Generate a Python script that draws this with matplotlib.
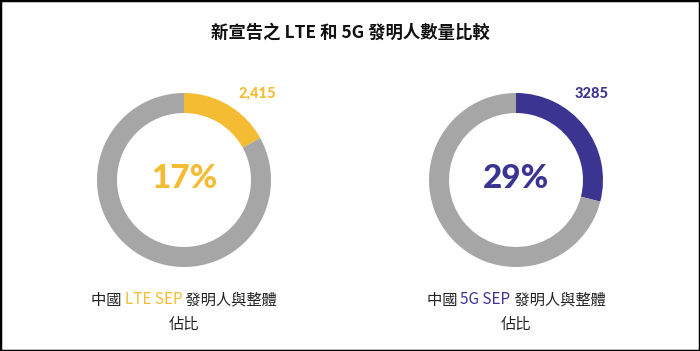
import matplotlib
matplotlib.use("Agg")
import matplotlib.pyplot as plt
from matplotlib.patches import Rectangle

plt.rcParams['font.family'] = ['Noto Sans CJK TC', 'DejaVu Sans']

W, H = 700, 351
title = "新宣告之 LTE 和 5G 發明人數量比較"
shares = [17, 29]                # percent share of China
value_labels = ["2,415", "3285"]
pct_labels = ["17%", "29%"]
highlight_colors = ["#F4BC33", "#3B3591"]
rest_color = "#A6A6A6"
caption_pre = ["中國 ", "中國 "]
caption_mid = ["LTE SEP", "5G SEP"]
caption_post = [" 發明人與整體", " 發明人與整體"]
caption_line2 = ["佔比", "佔比"]

fig = plt.figure(figsize=(W / 100, H / 100), dpi=100)
fig.patch.set_facecolor("white")

def fx(px):
    return px / W

def fy(py):
    return 1 - py / H

centers = [(184, 180), (516, 180)]
R = 87

for i, (cx, cy) in enumerate(centers):
    ax = fig.add_axes([fx(cx - R), fy(cy + R), 2 * R / W, 2 * R / H])
    s = shares[i]
    ax.pie([s, 100 - s], colors=[highlight_colors[i], rest_color],
           startangle=90, counterclock=False, radius=1,
           wedgeprops=dict(width=0.23, edgecolor='none'))
    ax.set_xlim(-1, 1)
    ax.set_ylim(-1, 1)
    ax.set_aspect('equal')
    ax.axis('off')
    ax.text(0, 0.02, pct_labels[i], ha='center', va='center',
            fontsize=24, fontweight='black', color=highlight_colors[i],
            family=['Lato', 'DejaVu Sans'])

value_pos = [(257, 94), (592, 94)]
for i, (x, y) in enumerate(value_pos):
    fig.text(fx(x), fy(y), value_labels[i], ha='center', va='center',
             fontsize=10.5, fontweight='black', color=highlight_colors[i],
             family=['Lato', 'DejaVu Sans'])

fig.text(fx(350), fy(33), title, ha='center', va='center',
         fontsize=12.5, fontweight='black', color='#111111')

# captions with a coloured middle part
fig.canvas.draw()
renderer = fig.canvas.get_renderer()
cap_centers = [184, 516]
for i, cx in enumerate(cap_centers):
    parts = [(caption_pre[i], '#222222'), (caption_mid[i], highlight_colors[i]),
             (caption_post[i], '#222222')]
    texts = []
    widths = []
    for s, c in parts:
        t = fig.text(0, fy(300), s, ha='left', va='center', fontsize=11,
                     color=c, fontweight='medium')
        bb = t.get_window_extent(renderer)
        texts.append(t)
        widths.append(bb.width)
    total = sum(widths)
    x = cx - total / 2
    for t, w in zip(texts, widths):
        t.set_x(fx(x))
        x += w
    fig.text(fx(cx), fy(324), caption_line2[i], ha='center', va='center',
             fontsize=11, color='#222222', fontweight='medium')

fig.add_artist(Rectangle((0, 0), 1, 1, transform=fig.transFigure,
                         fill=False, edgecolor='black', linewidth=2.5))

fig.savefig("out.png", dpi=100)
